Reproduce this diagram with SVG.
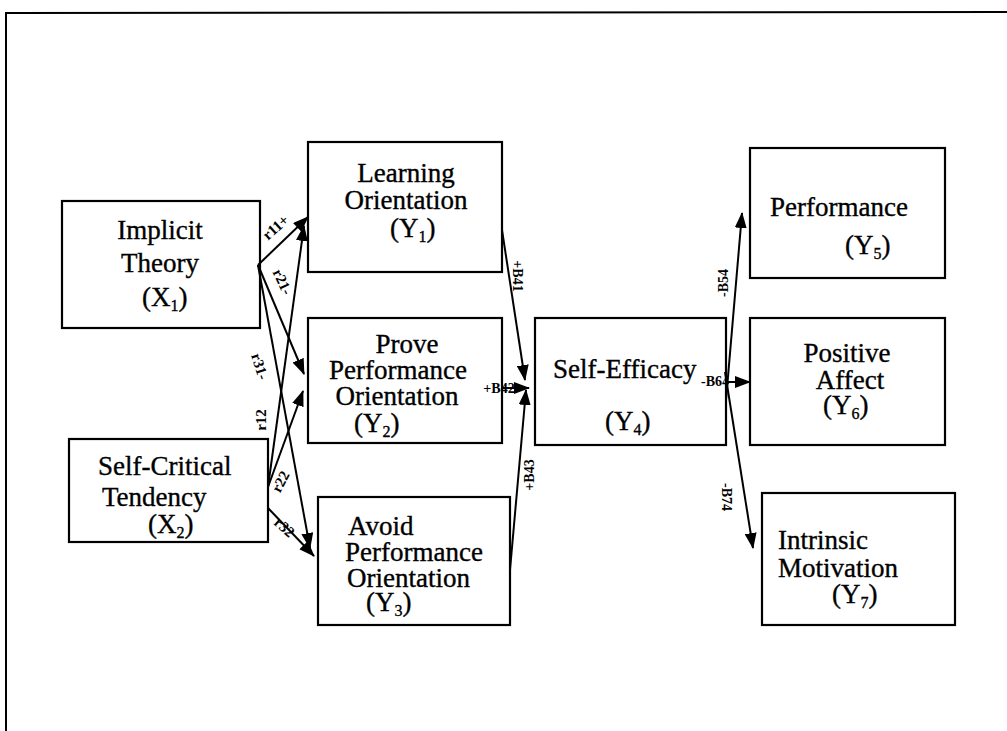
<svg xmlns="http://www.w3.org/2000/svg" width="1007" height="731" viewBox="0 0 1007 731">
  <style>
    .box { fill: #ffffff; stroke: #000000; stroke-width: 2.2; }
    .t { font-size: 27px; fill: #000000; stroke: #000000; stroke-width: 0.35; }
    .sub { font-size: 16px; }
    .lbl { font-size: 14px; font-weight: bold; fill: #000000; }
    .rl { font-size: 15px; }
    .edge { fill: none; stroke: #000000; stroke-width: 2; }
    .frame { fill: none; stroke: #000000; stroke-width: 2; }
  </style>
  <defs>
    <marker id="arrow" markerUnits="userSpaceOnUse" markerWidth="16" markerHeight="12" refX="15" refY="6" orient="auto">
      <path d="M0,0 L16,6 L0,12 Z" fill="#000000"/>
    </marker>
  </defs>

  <rect width="1007" height="731" fill="#ffffff"/>

  <!-- outer frame (top and left edges) -->
  <path class="frame" d="M6,731 L6,13 L1007,12"/>

  <g font-family="'Liberation Serif', Tinos, 'Times New Roman', 'DejaVu Serif', serif">
  <!-- nodes -->
  <g id="x1">
    <rect class="box" x="62" y="201" width="198" height="127"/>
    <text class="t" x="160" y="239" text-anchor="middle">Implicit</text>
    <text class="t" x="160" y="272" text-anchor="middle">Theory</text>
    <text class="t" x="142" y="306">(X<tspan class="sub" dy="5">1</tspan><tspan dy="-5">)</tspan></text>
  </g>

  <g id="x2">
    <rect class="box" x="69" y="439" width="199" height="103"/>
    <text class="t" x="98" y="475">Self-Critical</text>
    <text class="t" x="102" y="506">Tendency</text>
    <text class="t" x="148" y="533">(X<tspan class="sub" dy="5">2</tspan><tspan dy="-5">)</tspan></text>
  </g>

  <g id="y1">
    <rect class="box" x="308" y="142" width="194" height="130"/>
    <text class="t" x="406" y="182" text-anchor="middle">Learning</text>
    <text class="t" x="406" y="209" text-anchor="middle">Orientation</text>
    <text class="t" x="390" y="237">(Y<tspan class="sub" dy="5">1</tspan><tspan dy="-5">)</tspan></text>
  </g>

  <g id="y2">
    <rect class="box" x="308" y="318" width="194" height="125"/>
    <text class="t" x="407" y="353" text-anchor="middle">Prove</text>
    <text class="t" x="398" y="379" text-anchor="middle">Performance</text>
    <text class="t" x="397" y="405" text-anchor="middle">Orientation</text>
    <text class="t" x="354" y="432">(Y<tspan class="sub" dy="5">2</tspan><tspan dy="-5">)</tspan></text>
  </g>

  <g id="y3">
    <rect class="box" x="318" y="497" width="192" height="128"/>
    <text class="t" x="348" y="535">Avoid</text>
    <text class="t" x="345" y="561">Performance</text>
    <text class="t" x="347" y="587">Orientation</text>
    <text class="t" x="366" y="611">(Y<tspan class="sub" dy="5">3</tspan><tspan dy="-5">)</tspan></text>
  </g>

  <g id="y4">
    <rect class="box" x="535" y="318" width="191" height="127"/>
    <text class="t" x="553" y="378">Self-Efficacy</text>
    <text class="t" x="605" y="430">(Y<tspan class="sub" dy="5">4</tspan><tspan dy="-5">)</tspan></text>
  </g>

  <g id="y5">
    <rect class="box" x="750" y="148" width="195" height="130"/>
    <text class="t" x="770" y="216">Performance</text>
    <text class="t" x="845" y="254">(Y<tspan class="sub" dy="5">5</tspan><tspan dy="-5">)</tspan></text>
  </g>

  <g id="y6">
    <rect class="box" x="750" y="318" width="195" height="127"/>
    <text class="t" x="847" y="362" text-anchor="middle">Positive</text>
    <text class="t" x="850" y="389" text-anchor="middle">Affect</text>
    <text class="t" x="823" y="414">(Y<tspan class="sub" dy="5">6</tspan><tspan dy="-5">)</tspan></text>
  </g>

  <g id="y7">
    <rect class="box" x="762" y="493" width="193" height="132"/>
    <text class="t" x="778" y="549">Intrinsic</text>
    <text class="t" x="778" y="577">Motivation</text>
    <text class="t" x="832" y="603">(Y<tspan class="sub" dy="5">7</tspan><tspan dy="-5">)</tspan></text>
  </g>

  <!-- connectors -->
  <g id="connectors">
    <line class="edge" x1="258" y1="265" x2="308" y2="217" marker-end="url(#arrow)"/>
    <line class="edge" x1="258" y1="265" x2="304" y2="374" marker-end="url(#arrow)"/>
    <line class="edge" x1="258" y1="265" x2="310" y2="548" marker-end="url(#arrow)"/>
    <line class="edge" x1="268" y1="487" x2="304" y2="226" marker-end="url(#arrow)"/>
    <line class="edge" x1="268" y1="487" x2="303" y2="391" marker-end="url(#arrow)"/>
    <line class="edge" x1="268" y1="508" x2="314" y2="556" marker-end="url(#arrow)"/>

    <line class="edge" x1="502" y1="230" x2="525" y2="380" marker-end="url(#arrow)"/>
    <line class="edge" x1="503" y1="388" x2="529" y2="388" marker-end="url(#arrow)"/>
    <line class="edge" x1="510" y1="570" x2="526" y2="390" marker-end="url(#arrow)"/>

    <line class="edge" x1="726" y1="400" x2="742" y2="213" marker-end="url(#arrow)"/>
    <line class="edge" x1="726" y1="382" x2="750" y2="382" marker-end="url(#arrow)"/>
    <line class="edge" x1="725" y1="372" x2="753" y2="548" marker-end="url(#arrow)"/>

    <!-- path coefficients -->
    <text class="lbl rl" transform="translate(279,231) rotate(-42)" text-anchor="middle">r11+</text>
    <text class="lbl rl" transform="translate(278,284) rotate(65)" text-anchor="middle">r21-</text>
    <text class="lbl rl" transform="translate(255,368) rotate(72)" text-anchor="middle">r31-</text>
    <text class="lbl rl" transform="translate(266,420) rotate(-90)" text-anchor="middle">r12</text>
    <text class="lbl rl" transform="translate(285,484) rotate(-62)" text-anchor="middle">r22</text>
    <text class="lbl rl" transform="translate(281,531) rotate(42)" text-anchor="middle">r32</text>
    <text class="lbl" transform="translate(513,276) rotate(90)" text-anchor="middle">+B41</text>
    <text class="lbl" x="499" y="393" text-anchor="middle">+B42</text>
    <text class="lbl" transform="translate(534,475) rotate(-90)" text-anchor="middle">+B43</text>
    <text class="lbl" transform="translate(728,283) rotate(-90)" text-anchor="middle">-B54</text>
    <text class="lbl" x="715" y="386" text-anchor="middle">-B64</text>
    <text class="lbl" transform="translate(722,497) rotate(90)" text-anchor="middle">-B74</text>
  </g>
  </g>
</svg>
